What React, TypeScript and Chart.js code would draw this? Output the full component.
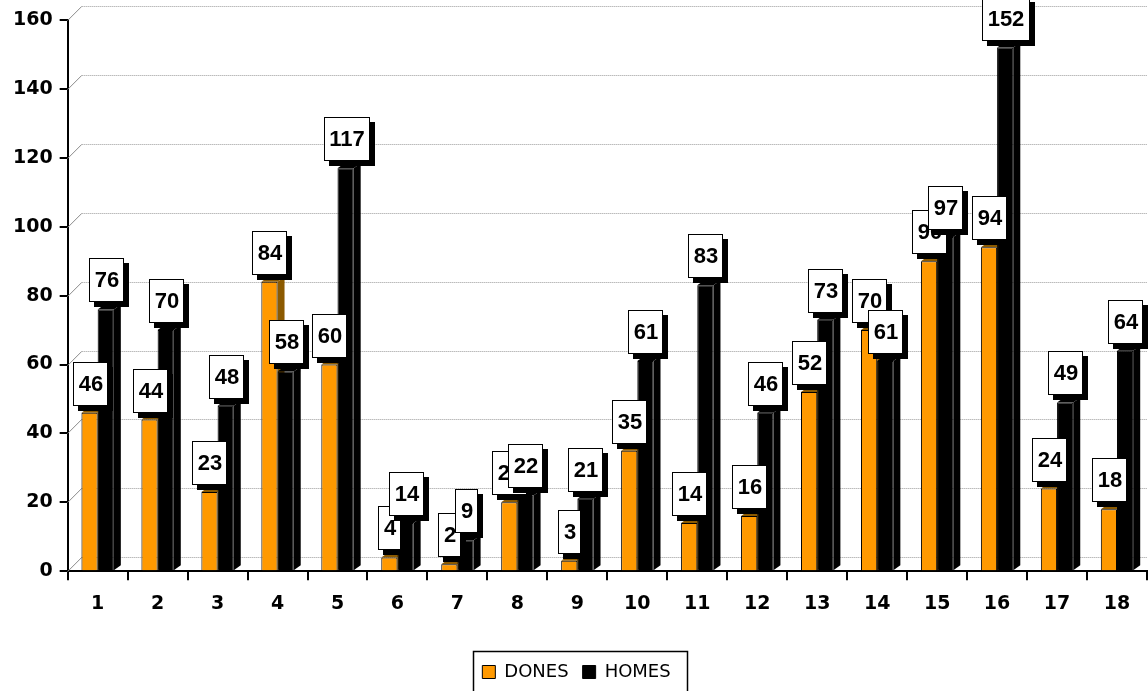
import React, { useEffect, useRef } from "react";
import { Chart, registerables } from "chart.js";

Chart.register(...registerables);

const categories = ["1", "2", "3", "4", "5", "6", "7", "8", "9", "10", "11", "12", "13", "14", "15", "16", "17", "18"];
const dones = [46, 44, 23, 84, 60, 4, 2, 20, 3, 35, 14, 16, 52, 70, 90, 94, 24, 18];
const homes = [76, 70, 48, 58, 117, 14, 9, 22, 21, 61, 83, 46, 73, 61, 97, 152, 49, 64];
const yTicks = [0, 20, 40, 60, 80, 100, 120, 140, 160];

const ORANGE = "#FF9900";
const ORANGE_SIDE = "#8C5A00";
const DEPTH = 14;

const backGridPlugin = {
  id: "backGrid",
  beforeDatasetsDraw(chart: any) {
    const ctx = chart.ctx;
    const y = chart.scales.y;
    const { left, right } = chart.chartArea;
    ctx.save();
    for (const v of yTicks) {
      const py = Math.round(y.getPixelForValue(v)) + 0.5;
      ctx.strokeStyle = "#9a9a9a";
      ctx.lineWidth = 1;
      ctx.setLineDash([1, 1]);
      ctx.beginPath();
      ctx.moveTo(left + DEPTH, py - DEPTH);
      ctx.lineTo(right, py - DEPTH);
      ctx.stroke();
      ctx.setLineDash([]);
      ctx.strokeStyle = "#8a8a8a";
      ctx.beginPath();
      ctx.moveTo(left, py);
      ctx.lineTo(left + DEPTH, py - DEPTH);
      ctx.stroke();
    }
    const d = 7;
    const dy = 5;
    chart.data.datasets.forEach((ds: any, di: number) => {
      const meta = chart.getDatasetMeta(di);
      ctx.fillStyle = di === 0 ? ORANGE_SIDE : "#000";
      meta.data.forEach((el: any) => {
        const p = el.getProps(["x", "y", "base", "width"], true);
        const L = p.x - p.width / 2;
        const R = p.x + p.width / 2;
        ctx.beginPath();
        ctx.moveTo(R, p.y);
        ctx.lineTo(R + d, p.y - dy);
        ctx.lineTo(R + d, p.base - dy);
        ctx.lineTo(R, p.base);
        ctx.closePath();
        ctx.fill();
        ctx.beginPath();
        ctx.moveTo(L, p.y);
        ctx.lineTo(L + d, p.y - dy);
        ctx.lineTo(R + d, p.y - dy);
        ctx.lineTo(R, p.y);
        ctx.closePath();
        ctx.fill();
      });
    });
    ctx.restore();
  },
};

const labelPlugin = {
  id: "boxLabels",
  afterDatasetsDraw(chart: any) {
    const ctx = chart.ctx;
    ctx.save();
    ctx.font = 'bold 22px "Liberation Sans", Arial, sans-serif';
    ctx.textAlign = "center";
    ctx.textBaseline = "middle";
    chart.data.datasets.forEach((ds: any, di: number) => {
      const meta = chart.getDatasetMeta(di);
      meta.data.forEach((el: any, i: number) => {
        const p = el.getProps(["x", "y"], true);
        const txt = String(ds.data[i]);
        const w = Math.round(ctx.measureText(txt).width + 11);
        const h = 44;
        const cx = Math.round(p.x + 1);
        const bottom = Math.round(p.y - 7);
        const left = cx - Math.round(w / 2);
        const top = bottom - h;
        ctx.fillStyle = "#000";
        ctx.fillRect(left + 5, top + 5, w, h);
        ctx.fillStyle = "#fff";
        ctx.fillRect(left, top, w, h);
        ctx.strokeStyle = "#000";
        ctx.lineWidth = 1;
        ctx.strokeRect(left + 0.5, top + 0.5, w - 1, h - 1);
        ctx.fillStyle = "#000";
        ctx.fillText(txt, cx, top + h / 2 + 1);
      });
    });
    ctx.restore();
  },
};

const legendBorderPlugin = {
  id: "legendBorder",
  afterDraw(chart: any) {
    const lg = chart.legend;
    if (!lg || !lg.legendHitBoxes || !lg.legendHitBoxes.length) return;
    const boxes = lg.legendHitBoxes;
    const first = boxes[0];
    const last = boxes[boxes.length - 1];
    const ctx = chart.ctx;
    ctx.save();
    ctx.strokeStyle = "#000";
    ctx.lineWidth = 1.5;
    const l = Math.round(first.left - 9) + 0.5;
    const r = Math.round(last.left + last.width + 16) + 0.5;
    const t = Math.round(first.top - 12) + 0.5;
    const b = Math.round(first.top + first.height + 40) + 0.5;
    ctx.strokeRect(l, t, r - l, b - t);
    ctx.restore();
  },
};

export default function App() {
  const ref = useRef<HTMLCanvasElement>(null);
  useEffect(() => {
    if (!ref.current) return;
    const chart = new Chart(ref.current, {
      type: "bar",
      data: {
        labels: categories,
        datasets: [
          {
            label: "DONES",
            data: dones,
            backgroundColor: ORANGE,
            borderColor: "#000",
            borderWidth: 1,
            categoryPercentage: 0.54,
            barPercentage: 1,
          },
          {
            label: "HOMES",
            data: homes,
            backgroundColor: "#000",
            borderColor: "#000",
            borderWidth: 1,
            categoryPercentage: 0.54,
            barPercentage: 1,
          },
        ],
      },
      options: {
        responsive: true,
        maintainAspectRatio: false,
        animation: false,
        layout: { padding: { top: 20, right: 1, left: 6, bottom: 0 } },
        scales: {
          x: {
            grid: {
              display: true,
              drawOnChartArea: false,
              drawTicks: true,
              tickLength: 9,
              color: "#000",
              lineWidth: 2,
            },
            border: { display: true, color: "#000", width: 2 },
            ticks: {
              color: "#000",
              padding: 12,
              font: { family: '"DejaVu Sans", Verdana, sans-serif', size: 19, weight: "bold" },
            },
            afterFit(scale: any) {
              scale.height += 22;
            },
          },
          y: {
            min: 0,
            max: 160,
            grid: {
              display: true,
              drawOnChartArea: false,
              drawTicks: true,
              tickLength: 8,
              color: "#000",
              lineWidth: 2,
            },
            border: { display: true, color: "#000", width: 2 },
            ticks: {
              stepSize: 20,
              color: "#000",
              padding: 7,
              font: { family: '"DejaVu Sans", Verdana, sans-serif', size: 19, weight: "bold" },
            },
          },
        },
        plugins: {
          legend: {
            display: true,
            position: "bottom",
            labels: {
              boxWidth: 13,
              boxHeight: 13,
              padding: 14,
              color: "#000",
              font: { family: '"DejaVu Sans", Verdana, sans-serif', size: 18 },
              generateLabels: (c: any) =>
                c.data.datasets.map((ds: any, i: number) => ({
                  text: ds.label,
                  fillStyle: ds.backgroundColor,
                  strokeStyle: "#000",
                  lineWidth: 1,
                  datasetIndex: i,
                  hidden: false,
                  fontColor: "#000",
                })),
            },
          },
          tooltip: { enabled: false },
        },
      },
      plugins: [backGridPlugin, labelPlugin, legendBorderPlugin],
    });
    return () => chart.destroy();
  }, []);
  return (
    <div style={{ position: "fixed", left: 0, top: 0, width: 1148, height: 691, background: "#fff" }}>
      <canvas ref={ref} />
    </div>
  );
}
